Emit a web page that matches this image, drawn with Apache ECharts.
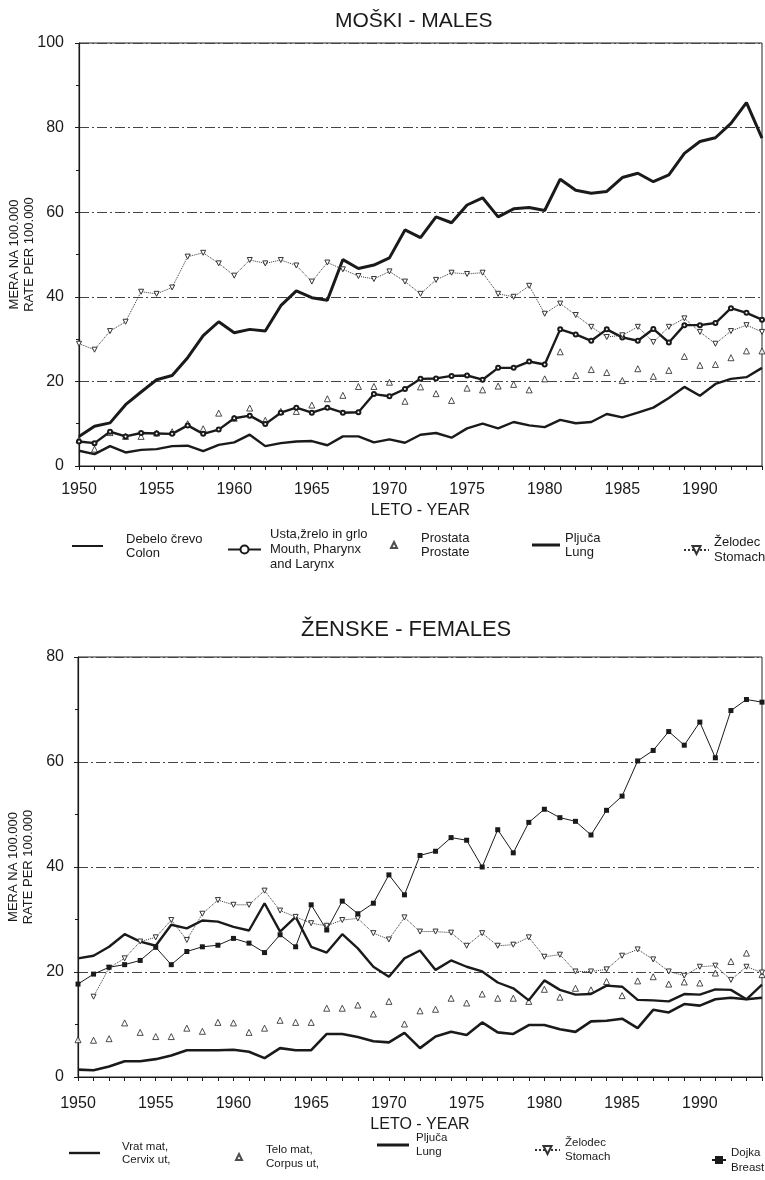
<!DOCTYPE html>
<html>
<head>
<meta charset="utf-8">
<script src="https://cdn.jsdelivr.net/npm/echarts@6/dist/echarts.min.js"></script>
<style>
  html, body { margin: 0; padding: 0; background: #fff; }
  #males, #females { width: 765px; height: 590px; }
</style>
</head>
<body>
<div id="males"></div>
<div id="females"></div>
<script>
const years = [1950, 1951, 1952, 1953, 1954, 1955, 1956, 1957, 1958, 1959,
  1960, 1961, 1962, 1963, 1964, 1965, 1966, 1967, 1968, 1969,
  1970, 1971, 1972, 1973, 1974, 1975, 1976, 1977, 1978, 1979,
  1980, 1981, 1982, 1983, 1984, 1985, 1986, 1987, 1988, 1989,
  1990, 1991, 1992, 1993, 1994];

// males
const maleColon = [3.6, 2.8, 4.7, 3.2, 3.8, 4.0, 4.7, 4.8, 3.5, 5.0,
  5.6, 7.4, 4.7, 5.4, 5.8, 5.9, 4.9, 7.0, 7.0, 5.6,
  6.3, 5.5, 7.4, 7.8, 6.7, 8.9, 10.0, 8.9, 10.4, 9.6,
  9.2, 10.9, 10.1, 10.4, 12.3, 11.5, 12.6, 13.8, 16.1, 18.7,
  16.6, 19.4, 20.6, 21.0, 23.2];
const maleMouth = [5.8, 5.4, 8.1, 7.0, 7.8, 7.7, 7.6, 9.6, 7.6, 8.6,
  11.3, 11.9, 9.9, 12.6, 13.8, 12.6, 13.8, 12.6, 12.7, 17.0,
  16.5, 18.2, 20.6, 20.7, 21.3, 21.4, 20.4, 23.2, 23.2, 24.7,
  24.0, 32.3, 31.1, 29.6, 32.3, 30.4, 29.6, 32.4, 29.2, 33.3,
  33.3, 33.8, 37.3, 36.2, 34.6];
const maleProstate = [6.2, 4.0, 7.9, 7.0, 7.0, 7.8, 8.1, 10.0, 8.8, 12.5,
  11.3, 13.7, 10.8, 12.9, 12.9, 14.4, 15.9, 16.7, 18.8, 18.8,
  19.8, 15.3, 18.7, 17.1, 15.5, 18.4, 18.0, 18.9, 19.3, 18.0,
  20.6, 27.0, 21.4, 22.8, 22.1, 20.2, 23.0, 21.2, 22.6, 25.9,
  23.8, 24.0, 25.6, 27.2, 27.2];
const maleLung = [7.0, 9.4, 10.2, 14.5, 17.5, 20.4, 21.4, 25.6, 30.8, 34.1,
  31.5, 32.3, 31.9, 37.9, 41.4, 39.8, 39.2, 48.8, 46.7, 47.5,
  49.2, 55.8, 54.0, 58.9, 57.5, 61.7, 63.4, 58.9, 60.8, 61.1,
  60.4, 67.8, 65.2, 64.5, 64.9, 68.2, 69.2, 67.2, 68.8, 73.9,
  76.7, 77.6, 81.0, 85.9, 77.5];
const maleStomach = [28.9, 27.5, 31.9, 34.1, 41.2, 40.7, 42.2, 49.5, 50.4, 47.9,
  45.0, 48.7, 47.9, 48.7, 47.4, 43.6, 48.1, 46.5, 44.9, 44.2,
  46.0, 43.6, 40.7, 44.0, 45.7, 45.4, 45.7, 40.7, 40.0, 42.6,
  36.0, 38.4, 35.7, 32.9, 30.5, 30.9, 32.9, 29.3, 32.9, 34.9,
  31.7, 28.9, 31.9, 33.3, 31.7];

// females
const femCervix = [22.6, 23.1, 24.8, 27.2, 25.8, 25.0, 29.0, 28.3, 29.8, 29.6,
  28.6, 27.9, 33.1, 27.7, 30.5, 24.8, 23.7, 27.2, 24.5, 21.0,
  19.1, 22.6, 24.1, 20.4, 22.2, 21.0, 20.1, 18.0, 16.9, 14.6,
  18.4, 16.6, 15.7, 15.8, 17.4, 17.2, 14.7, 14.6, 14.4, 15.8,
  15.7, 16.7, 16.6, 14.8, 17.6];
const femCorpus = [7.1, 7.0, 7.3, 10.3, 8.5, 7.7, 7.7, 9.3, 8.7, 10.4,
  10.3, 8.5, 9.3, 10.8, 10.4, 10.4, 13.1, 13.1, 13.7, 12.0,
  14.4, 10.1, 12.6, 12.9, 15.0, 14.1, 15.8, 15.0, 15.0, 14.4,
  16.7, 15.2, 16.9, 16.6, 18.2, 15.5, 18.3, 19.1, 17.7, 18.1,
  17.9, 19.8, 22.0, 23.6, 19.5];
const femLung = [1.4, 1.3, 2.0, 3.0, 3.0, 3.4, 4.1, 5.1, 5.1, 5.1,
  5.2, 4.8, 3.6, 5.5, 5.1, 5.1, 8.2, 8.2, 7.6, 6.8,
  6.6, 8.4, 5.5, 7.7, 8.6, 8.0, 10.4, 8.5, 8.2, 9.9,
  9.9, 9.1, 8.6, 10.6, 10.7, 11.1, 9.3, 12.8, 12.3, 13.9,
  13.6, 14.8, 15.1, 14.8, 15.1];
const femStomach = [null, 15.3, 20.8, 22.6, 25.8, 26.6, 29.9, 26.1, 31.1, 33.7,
  32.8, 32.8, 35.5, 31.7, 30.5, 29.3, 28.8, 29.9, 30.2, 27.4,
  26.2, 30.4, 27.7, 27.7, 27.5, 25.0, 27.4, 25.0, 25.2, 26.6,
  22.9, 23.3, 20.1, 20.1, 20.5, 23.1, 24.3, 22.4, 20.1, 19.3,
  21.0, 21.2, 18.5, 21.0, 19.9];
const femBreast = [17.7, 19.6, 20.9, 21.4, 22.2, 24.7, 21.4, 23.9, 24.8, 25.1,
  26.4, 25.5, 23.7, 27.1, 24.8, 32.8, 28.0, 33.5, 31.1, 33.1,
  38.5, 34.7, 42.2, 43.0, 45.6, 45.1, 40.0, 47.1, 42.7, 48.5,
  51.0, 49.4, 48.7, 46.1, 50.8, 53.5, 60.2, 62.2, 65.8, 63.2,
  67.6, 60.8, 69.8, 71.9, 71.4];

const FONT = '"Liberation Sans", Arial, sans-serif';
const INK = '#1a1a1a';

function xAxisOpt(labelMargin, nameGap) {
  return {
    type: 'category',
    data: years,
    boundaryGap: false,
    name: 'LETO - YEAR',
    nameLocation: 'middle',
    nameGap: nameGap,
    nameTextStyle: { fontFamily: FONT, fontSize: 16, color: INK },
    axisLine: { lineStyle: { color: INK, width: 1.2 } },
    axisTick: { interval: 0, length: 4, lineStyle: { color: INK } },
    axisLabel: { interval: 4, margin: labelMargin, fontFamily: FONT, fontSize: 16, color: INK },
    splitLine: { show: false }
  };
}

function yAxisOpt(max, labelMargin) {
  return {
    type: 'value',
    min: 0,
    max: max,
    interval: 20,
    name: 'MERA NA 100.000\nRATE PER 100.000',
    nameLocation: 'middle',
    nameRotate: 90,
    nameGap: 42,
    nameMoveOverlap: false,
    nameTextStyle: { fontFamily: FONT, fontSize: 13, lineHeight: 15, color: INK },
    axisLine: { show: true, lineStyle: { color: INK, width: 1.2 } },
    axisTick: { show: true, length: 4, lineStyle: { color: INK } },
    minorTick: { show: true, splitNumber: 2, length: 3, lineStyle: { color: INK } },
    axisLabel: { margin: labelMargin, fontFamily: FONT, fontSize: 16, color: INK },
    splitLine: { lineStyle: { color: '#444', width: 1, type: [10, 3, 2, 3] } }
  };
}

// one legend per entry so each can sit where the original puts it
function legendOpt(name, o) {
  return {
    data: [o.icon ? { name: name, icon: o.icon } : name],
    left: o.left,
    top: o.top,
    padding: 0,
    itemWidth: o.w,
    itemHeight: o.h || 10,
    selectedMode: false,
    textStyle: {
      fontFamily: FONT, fontSize: o.fs || 13, lineHeight: o.lh || 14, color: INK,
      padding: [0, 0, 0, o.pad || 0]
    }
  };
}

function lineSeries(name, data, width, extra) {
  return Object.assign({
    name: name,
    type: 'line',
    data: data,
    symbol: 'none',
    color: INK,
    lineStyle: { color: INK, width: width },
    animation: false
  }, extra || {});
}

function markerSeries(name, data) {
  return {
    name: name,
    type: 'scatter',
    data: data,
    symbol: 'triangle',
    symbolSize: 6,
    itemStyle: { color: '#fff', borderColor: '#222', borderWidth: 1 },
    animation: false
  };
}

const stomachStyle = {
  symbol: 'triangle', symbolRotate: 180, symbolSize: 5, showSymbol: true,
  lineStyle: { color: '#333', width: 1, type: 'dotted' },
  itemStyle: { color: '#fff', borderColor: '#333', borderWidth: 1 }
};

const malesChart = echarts.init(document.getElementById('males'));
malesChart.setOption({
  title: {
    text: 'MOŠKI - MALES',
    left: 330,
    top: 6,
    textStyle: { fontFamily: FONT, fontSize: 21, fontWeight: 'normal', color: INK }
  },
  grid: {
    left: 79, right: 3, top: 43, bottom: 124, outerBoundsMode: 'none',
    show: true, borderColor: '#222', borderWidth: 1
  },
  xAxis: xAxisOpt(16, 34),
  yAxis: yAxisOpt(100, 15),
  legend: [
    legendOpt('Debelo črevo\nColon', { left: 72, top: 532, w: 31, h: 2, icon: 'rect', pad: 18 }),
    legendOpt('Usta,žrelo in grlo\nMouth, Pharynx\nand Larynx', { left: 227, top: 527, w: 33, pad: 4, lh: 15 }),
    legendOpt('Prostata\nProstate', { left: 390, top: 531, w: 6, h: 6, pad: 19 }),
    legendOpt('Pljuča\nLung', { left: 532, top: 531, w: 28, h: 3, icon: 'rect' }),
    legendOpt('Želodec\nStomach', { left: 683, top: 535, w: 25, lh: 15 })
  ],
  series: [
    lineSeries('Debelo črevo\nColon', maleColon, 2.4),
    lineSeries('Usta,žrelo in grlo\nMouth, Pharynx\nand Larynx', maleMouth, 2.4, {
      symbol: 'emptyCircle', symbolSize: 4, showSymbol: true,
      itemStyle: { color: INK, borderWidth: 1 }
    }),
    markerSeries('Prostata\nProstate', maleProstate),
    lineSeries('Pljuča\nLung', maleLung, 3),
    lineSeries('Želodec\nStomach', maleStomach, 1, stomachStyle)
  ]
});

const femalesChart = echarts.init(document.getElementById('females'));
femalesChart.setOption({
  title: {
    text: 'ŽENSKE - FEMALES',
    left: 296,
    top: 24,
    textStyle: { fontFamily: FONT, fontSize: 22, fontWeight: 'normal', color: INK }
  },
  grid: {
    left: 78, right: 3, top: 67, bottom: 103, outerBoundsMode: 'none',
    show: true, borderColor: '#222', borderWidth: 1
  },
  xAxis: xAxisOpt(19, 37),
  yAxis: yAxisOpt(80, 14),
  legend: [
    legendOpt('Vrat mat,\nCervix ut,', { left: 69, top: 550, w: 31, h: 2.4, icon: 'rect', pad: 17, fs: 11.5, lh: 13 }),
    legendOpt('Telo mat,\nCorpus ut,', { left: 235, top: 553, w: 6, h: 6, pad: 19, fs: 11.5, lh: 14 }),
    legendOpt('Pljuča\nLung', { left: 377, top: 541, w: 32, h: 3, icon: 'rect', pad: 2, fs: 11.5, lh: 14 }),
    legendOpt('Želodec\nStomach', { left: 534, top: 546, w: 25, fs: 11.5, lh: 14 }),
    legendOpt('Dojka\nBreast', { left: 711, top: 555, w: 14, fs: 11.5, lh: 15 })
  ],
  series: [
    lineSeries('Vrat mat,\nCervix ut,', femCervix, 2.4),
    markerSeries('Telo mat,\nCorpus ut,', femCorpus),
    lineSeries('Pljuča\nLung', femLung, 2.6),
    lineSeries('Želodec\nStomach', femStomach, 1, stomachStyle),
    lineSeries('Dojka\nBreast', femBreast, 1, {
      symbol: 'rect', symbolSize: 5, showSymbol: true,
      itemStyle: { color: INK }
    })
  ]
});
</script>
</body>
</html>
